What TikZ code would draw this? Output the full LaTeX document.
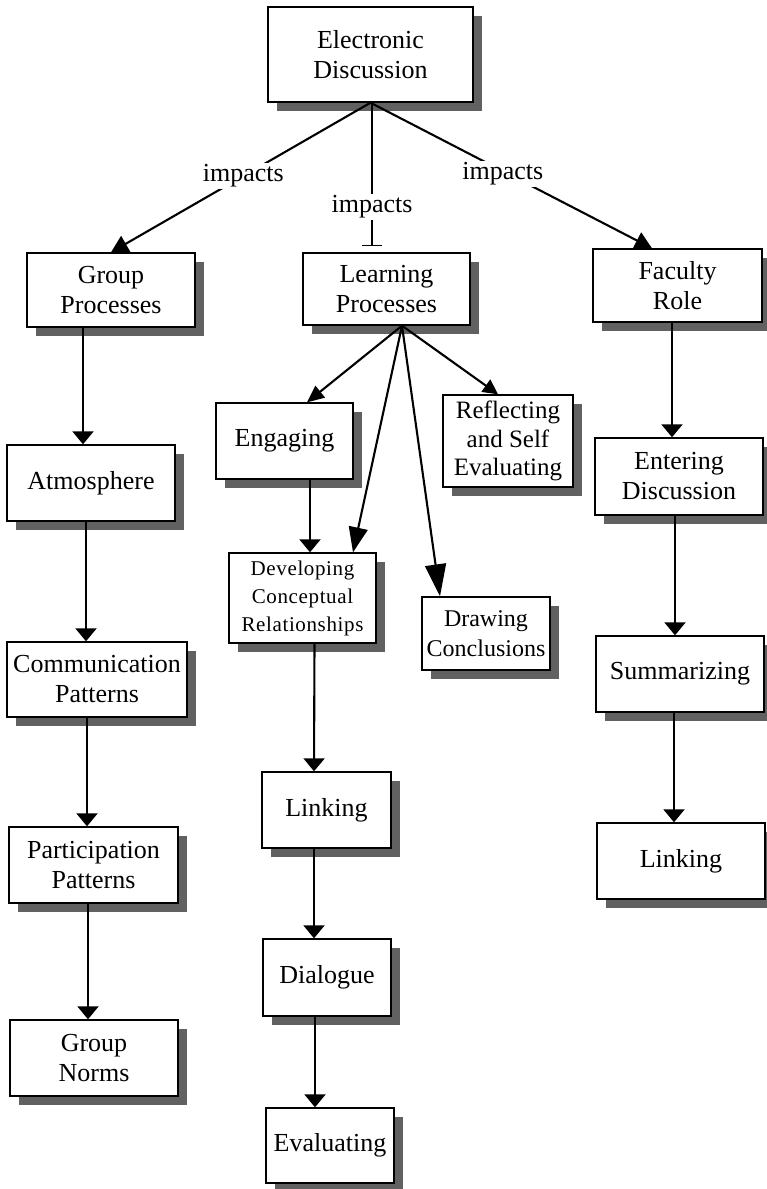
\documentclass[tikz,border=0pt]{standalone}
\usepackage{fontspec}
\setmainfont{Liberation Serif}
\usetikzlibrary{arrows.meta,shadows}
\begin{document}
\begin{tikzpicture}[x=1pt,y=-1pt,
  box/.style={draw,line width=1.4pt,fill=white,align=center,inner sep=0pt,
    font=\fontsize{26}{30}\selectfont,
    drop shadow={shadow xshift=9pt,shadow yshift=-9pt,fill=black!62,opacity=1}},
  lab/.style={fill=white,inner sep=1.5pt,font=\fontsize{26}{30}\selectfont},
  con/.style={line width=2.1pt},
  varr/.style={con,-{Triangle[width=21pt,length=13pt]}},
  darr/.style={con,-{Triangle[width=18pt,length=17pt]}},
  barr/.style={con,-{Bar[width=20pt,line width=1.5pt]}}
]
\useasboundingbox (0,0) rectangle (767,1189);

% top
\node[box,minimum width=205pt,minimum height=95pt] (ED) at (370.5,54.5) {Electronic\\Discussion};

% second row
\node[box,minimum width=168pt,minimum height=74pt] (GP) at (111,290) {Group\\Processes};
\node[box,minimum width=167pt,minimum height=72pt] (LP) at (386.5,289) {Learning\\Processes};
\node[box,minimum width=169pt,minimum height=73pt] (FR) at (677.5,285.5) {Faculty\\Role};

% left column
\node[box,minimum width=168pt,minimum height=76pt] (ATM) at (91,483) {Atmosphere};
\node[box,minimum width=180pt,minimum height=75pt] (COM) at (97,679.5) {Communication\\Patterns};
\node[box,minimum width=169pt,minimum height=76pt] (PAR) at (93.5,865) {Participation\\Patterns};
\node[box,minimum width=168pt,minimum height=76pt] (GN) at (94,1058) {Group\\Norms};

% middle column
\node[box,minimum width=137pt,minimum height=76pt] (ENG) at (284.5,441) {Engaging};
\node[box,minimum width=130pt,minimum height=92pt,font=\fontsize{25}{28.5}\selectfont] (REF) at (508,441) {Reflecting\\and Self\\Evaluating};
\node[box,minimum width=147pt,minimum height=90pt,font=\fontsize{21}{28}\selectfont\addfontfeatures{LetterSpace=3}] (DEV) at (302.5,598) {Developing\\Conceptual\\Relationships};
\node[box,minimum width=128pt,minimum height=73pt,font=\fontsize{24}{30}\selectfont] (DRW) at (486,633.5) {Drawing\\Conclusions};
\node[box,minimum width=129pt,minimum height=76pt] (LKM) at (326.5,810) {Linking};
\node[box,minimum width=128pt,minimum height=77pt] (DIA) at (327,977.5) {Dialogue};
\node[box,minimum width=128pt,minimum height=75pt] (EVA) at (330,1145.5) {Evaluating};

% right column
\node[box,minimum width=168pt,minimum height=77pt] (ENT) at (679,476.5) {Entering\\Discussion};
\node[box,minimum width=168pt,minimum height=76pt] (SUM) at (680,674) {Summarizing};
\node[box,minimum width=168pt,minimum height=76pt] (LKR) at (681,861) {Linking};

% connectors from top
\draw[darr] (ED.south) -- node[lab,pos=0.49]{impacts} (GP.north);
\draw[darr] (ED.south) -- node[lab,pos=0.47,yshift=-3pt]{impacts} ([xshift=-25.5pt]FR.north);
\draw[barr,shorten >=6pt] ([xshift=1.5pt]ED.south) -- node[lab,pos=0.695]{impacts} ([xshift=-14.5pt]LP.north);

% learning processes fan
\draw[con,-{Triangle[width=15pt,length=17pt]}] ([xshift=15.5pt]LP.south) -- ([xshift=22.5pt]ENG.north);
\draw[con,-{Triangle[width=19pt,length=25pt]}] ([xshift=15.5pt]LP.south) -- ([xshift=50.5pt]DEV.north);
\draw[con,-{Triangle[width=21pt,length=32pt]}] ([xshift=15.5pt]LP.south) -- ([xshift=-46pt]DRW.north);
\draw[con,-{Triangle[width=15pt,length=15pt]}] ([xshift=15.5pt]LP.south) -- ([xshift=-10pt]REF.north);

% left column chain
\draw[varr] ([xshift=-28pt]GP.south) -- ([xshift=-8pt]ATM.north);
\draw[varr] ([xshift=-5pt]ATM.south) -- ([xshift=-11pt]COM.north);
\draw[varr] ([xshift=-10pt]COM.south) -- ([xshift=-6.5pt]PAR.north);
\draw[varr] ([xshift=-5.5pt]PAR.south) -- ([xshift=-6pt]GN.north);

% middle chain
\draw[varr] ([xshift=25.5pt]ENG.south) -- ([xshift=7.5pt]DEV.north);
\draw[varr] ([xshift=12pt]DEV.south) -- ([xshift=-12.5pt]LKM.north);
\draw[varr] ([xshift=-12.5pt]LKM.south) -- ([xshift=-13pt]DIA.north);
\draw[varr] ([xshift=-12pt]DIA.south) -- ([xshift=-15pt]EVA.north);

% right chain
\draw[varr] ([xshift=-5.5pt]FR.south) -- ([xshift=-7pt]ENT.north);
\draw[varr] ([xshift=-4pt]ENT.south) -- ([xshift=-5pt]SUM.north);
\draw[varr] ([xshift=-6pt]SUM.south) -- ([xshift=-7pt]LKR.north);
\end{tikzpicture}
\end{document}
